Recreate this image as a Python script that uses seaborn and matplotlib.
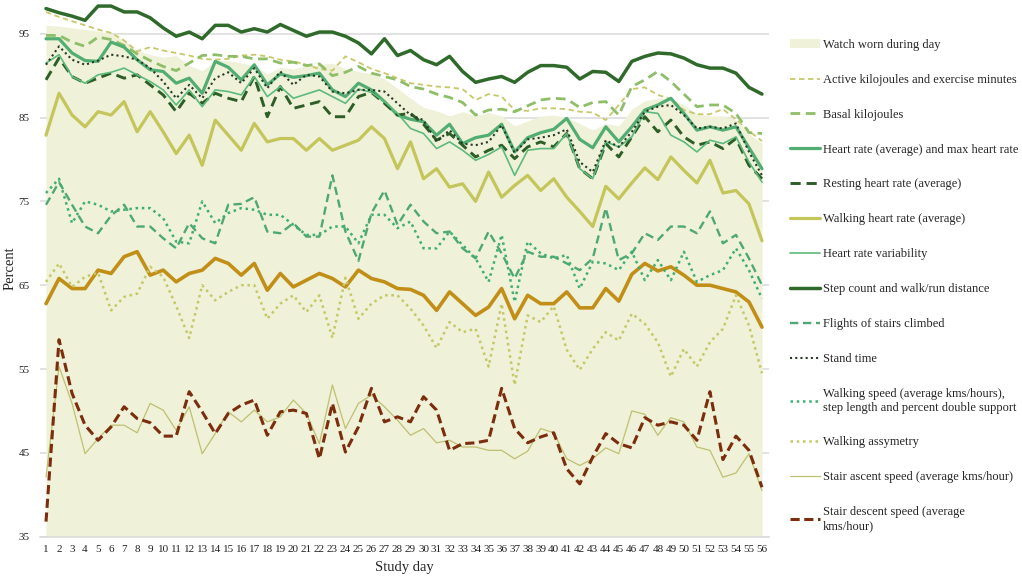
import numpy as np
import pandas as pd
import matplotlib.pyplot as plt
import seaborn as sns
from matplotlib.patches import Patch

# ── data (percent of participants, per study day) ──────────────
days = list(range(1, 57))

worn = [96.0, 95.9, 95.7, 95.5, 95.3, 95.0, 94.2, 93.0, 92.5, 92.2, 92.4, 91.2, 90.6, 91.8,
        91.8, 91.5, 91.2, 90.2, 91.0, 90.8, 91.2, 91.3, 91.5, 90.8, 90.5, 90.2, 89.6, 88.5,
        87.3, 86.2, 85.8, 85.2, 85.7, 85.2, 85.6, 85.2, 84.0, 84.6, 85.2, 85.3, 85.0, 84.3,
        83.5, 84.3, 84.0, 86.0, 87.0, 87.3, 87.3, 86.5, 85.5, 85.2, 85.2, 84.8, 83.0, 82.0]

active_kj = [97.6, 97.0, 96.5, 96.0, 95.5, 95.1, 94.2, 92.9, 93.4, 93.0, 92.7, 92.4, 92.0, 91.9,
             92.0, 92.4, 92.5, 92.3, 91.9, 91.7, 91.3, 90.8, 90.6, 92.3, 91.6, 90.8, 90.3, 89.7,
             89.1, 88.9, 88.7, 88.6, 88.4, 87.1, 87.8, 87.5, 85.9, 85.8, 86.1, 86.1, 86.0, 85.7,
             85.6, 84.7, 86.5, 88.4, 88.6, 87.7, 87.2, 85.9, 85.4, 85.4, 86.0, 84.8, 83.4, 82.2]

basal_kj = [94.8, 94.8, 94.0, 93.5, 94.6, 94.3, 93.6, 92.6, 91.8, 91.1, 90.6, 91.5, 92.4, 92.5,
            92.3, 92.3, 92.0, 92.0, 91.5, 91.6, 91.2, 91.4, 90.0, 90.4, 91.1, 90.3, 89.9, 89.5,
            88.7, 88.4, 87.8, 87.4, 86.8, 85.3, 85.9, 86.0, 85.7, 86.4, 87.1, 87.3, 87.2, 86.2,
            86.8, 86.9, 85.3, 88.7, 89.5, 90.5, 89.3, 87.8, 86.3, 86.5, 86.5, 85.5, 83.2, 83.1]

heart_rate = [94.4, 94.4, 92.7, 91.8, 91.7, 94.0, 93.4, 91.9, 90.7, 90.5, 89.1, 89.7, 87.9, 91.7,
              91.0, 89.5, 91.3, 88.9, 90.2, 89.8, 90.0, 90.3, 88.3, 87.5, 89.1, 88.3, 86.9, 85.3,
              84.8, 84.5, 82.9, 84.2, 81.9, 82.6, 82.9, 84.2, 80.9, 82.6, 83.2, 83.6, 84.9, 82.4,
              81.4, 83.9, 82.1, 83.9, 85.9, 86.5, 87.3, 85.5, 83.5, 83.9, 83.5, 83.9, 81.4, 78.9]

resting_hr = [89.5, 92.1, 89.9, 89.1, 89.7, 90.3, 89.7, 90.1, 88.9, 87.7, 85.7, 87.9, 86.7, 87.9,
              87.3, 86.9, 89.9, 85.1, 88.7, 86.1, 86.5, 86.9, 85.1, 85.1, 87.5, 88.0, 86.7, 85.3,
              85.5, 84.2, 82.3, 83.1, 81.7, 80.3, 81.1, 81.7, 80.1, 81.5, 82.1, 81.5, 83.1, 78.9,
              77.7, 81.9, 80.3, 82.7, 85.1, 83.3, 84.7, 82.7, 81.7, 82.1, 81.3, 82.5, 79.3, 77.7]

walking_hr = [82.9, 87.9, 85.3, 83.9, 85.7, 85.3, 86.9, 83.3, 85.7, 83.3, 80.7, 82.9, 79.3, 84.7,
              82.9, 81.1, 84.3, 82.1, 82.5, 82.5, 81.1, 82.5, 81.1, 81.7, 82.3, 83.9, 82.5, 78.9,
              82.1, 77.7, 78.9, 76.7, 77.1, 75.0, 78.5, 75.5, 76.9, 78.1, 76.3, 77.7, 75.5, 73.8,
              72.0, 76.8, 75.3, 77.2, 79.0, 77.6, 80.3, 78.7, 77.2, 79.9, 76.0, 76.3, 74.7, 70.3]

hrv = [91.5, 92.5, 89.9, 89.1, 90.1, 90.4, 90.9, 90.1, 89.3, 88.3, 86.5, 88.3, 86.3, 88.3,
       88.1, 87.7, 89.9, 87.5, 88.7, 87.3, 87.8, 88.3, 87.5, 86.7, 88.4, 88.0, 86.9, 85.5,
       83.7, 83.1, 81.3, 82.1, 81.1, 79.9, 80.6, 81.5, 78.1, 81.1, 81.3, 81.3, 83.1, 78.9,
       77.7, 82.1, 81.5, 82.7, 85.7, 85.5, 82.9, 82.1, 80.9, 82.3, 81.9, 82.7, 79.7, 77.3]

step_count = [98.0, 97.5, 97.1, 96.6, 98.3, 98.3, 97.6, 97.6, 96.9, 95.7, 94.7, 95.2, 94.4, 96.0,
              96.0, 95.2, 95.6, 95.2, 96.1, 95.4, 94.7, 95.2, 95.2, 94.7, 93.9, 92.6, 94.4, 92.4,
              93.0, 91.9, 91.3, 92.3, 90.5, 89.2, 89.6, 89.9, 89.2, 90.4, 91.2, 91.2, 91.0, 89.6,
              90.5, 90.4, 89.3, 91.7, 92.3, 92.7, 92.6, 92.1, 91.3, 90.9, 90.9, 90.3, 88.6, 87.8]

flights = [74.6, 77.3, 74.6, 72.0, 71.2, 73.3, 74.6, 72.0, 72.0, 70.6, 69.4, 72.4, 70.6, 70.0,
           74.6, 74.7, 75.5, 71.4, 71.2, 72.4, 70.8, 70.8, 78.1, 71.4, 67.9, 73.6, 76.3, 72.2,
           74.6, 72.6, 71.2, 71.4, 69.4, 68.2, 71.4, 68.8, 65.8, 69.0, 68.4, 68.4, 67.6, 66.8,
           68.2, 74.2, 68.0, 68.8, 71.2, 70.4, 72.0, 72.0, 71.2, 73.8, 70.0, 71.0, 68.2, 65.0]

stand_time = [91.3, 93.5, 91.9, 91.3, 91.8, 92.5, 92.3, 91.9, 90.9, 89.3, 87.3, 88.9, 87.3, 89.7,
              90.4, 89.1, 90.9, 88.5, 90.5, 88.9, 90.1, 89.9, 88.1, 87.9, 88.3, 88.3, 88.1, 86.7,
              85.3, 84.7, 82.1, 83.5, 81.9, 81.7, 82.1, 84.1, 80.8, 82.4, 82.6, 82.9, 83.6, 79.7,
              78.5, 82.3, 81.5, 83.3, 85.7, 86.3, 86.5, 85.3, 83.7, 83.9, 83.7, 84.3, 80.9, 78.1]

walking_speed = [76.0, 77.7, 72.4, 75.0, 74.6, 73.8, 74.0, 74.2, 74.2, 73.0, 70.2, 70.0, 75.0, 72.4,
                 73.6, 74.2, 74.0, 73.4, 73.4, 72.2, 71.0, 71.0, 72.0, 72.0, 70.0, 73.4, 73.4, 71.8,
                 72.6, 69.4, 69.4, 71.4, 69.8, 68.2, 65.4, 71.0, 63.0, 70.2, 68.8, 68.2, 68.6, 64.6,
                 67.8, 67.6, 66.8, 69.0, 65.6, 68.0, 65.6, 69.0, 65.4, 66.2, 66.8, 69.4, 66.8, 63.4]

walking_asym = [65.4, 67.6, 64.8, 66.0, 66.5, 62.0, 63.6, 64.0, 67.2, 66.0, 62.5, 58.7, 65.0, 63.2,
                64.2, 65.0, 65.0, 61.0, 62.8, 63.8, 61.8, 63.8, 58.7, 65.9, 61.0, 62.8, 63.8, 63.8,
                62.2, 60.2, 57.5, 60.6, 59.4, 59.8, 55.3, 62.8, 53.1, 61.4, 60.6, 62.5, 57.3, 54.9,
                57.4, 59.4, 58.4, 61.6, 60.4, 58.2, 54.1, 57.4, 55.3, 58.2, 59.8, 63.8, 60.2, 54.5]

stair_ascent = [42.1, 55.3, 50.9, 44.9, 46.7, 48.3, 48.3, 47.4, 50.9, 50.1, 47.7, 50.5, 44.9, 47.3,
                49.9, 48.7, 50.1, 48.7, 49.3, 51.3, 49.7, 46.1, 53.1, 47.9, 50.9, 51.9, 50.5, 48.9,
                47.1, 47.9, 46.2, 46.5, 45.7, 45.7, 45.3, 45.3, 44.3, 45.2, 47.9, 47.4, 44.3, 43.5,
                44.3, 45.6, 44.9, 50.0, 49.6, 47.1, 49.2, 48.7, 45.7, 45.3, 42.1, 42.6, 44.9, 40.5]

stair_descent = [36.8, 58.5, 52.1, 48.3, 46.5, 48.1, 50.5, 49.1, 48.6, 47.0, 47.0, 52.3, 49.9, 47.3,
                 49.7, 50.7, 51.3, 47.1, 49.9, 50.1, 49.7, 44.3, 50.9, 45.1, 48.1, 52.7, 48.7, 49.3,
                 48.7, 51.7, 50.1, 45.3, 46.1, 46.2, 46.5, 52.7, 47.9, 46.2, 46.9, 47.4, 43.1, 41.3,
                 44.5, 47.3, 46.1, 45.6, 49.2, 48.3, 48.7, 48.3, 46.5, 52.3, 44.2, 47.0, 45.3, 40.9]

# gold line has no entry in the original legend
gold_series = [62.8, 65.8, 64.6, 64.6, 66.8, 66.4, 68.4, 69.0, 66.2, 66.8, 65.4, 66.4, 66.8, 68.2,
               67.6, 66.2, 67.6, 64.4, 66.4, 64.8, 65.6, 66.4, 65.8, 64.8, 66.8, 65.8, 65.4, 64.6,
               64.5, 63.8, 62.0, 64.2, 62.8, 61.4, 62.4, 64.6, 61.0, 63.8, 62.8, 62.8, 64.2, 62.3,
               62.3, 64.6, 63.1, 66.3, 67.6, 66.7, 67.2, 66.2, 65.0, 65.0, 64.6, 64.2, 63.0, 60.0]

AREA = "#EFF1D8"

# (values, legend label, colour, linewidth, linestyle)
series = [
    (active_kj, "Active kilojoules and exercise minutes", "#C8C86A", 1.3, (0, (3, 2))),
    (basal_kj, "Basal kilojoules", "#8EBF68", 2.0, (0, (3.5, 2))),
    (heart_rate, "Heart rate (average) and max heart rate", "#52AD72", 2.3, "-"),
    (resting_hr, "Resting heart rate (average)", "#2D5E28", 2.1, (0, (3.5, 2))),
    (walking_hr, "Walking heart rate (average)", "#C4C55A", 2.3, "-"),
    (hrv, "Heart rate variability", "#5DBA7D", 1.2, "-"),
    (step_count, "Step count and walk/run distance", "#2F6A2B", 2.5, "-"),
    (flights, "Flights of stairs climbed", "#4FA874", 1.7, (0, (3.5, 2))),
    (stand_time, "Stand time", "#263B26", 1.5, (0, (1, 1.5))),
    (walking_speed, "Walking speed (average kms/hours),\nstep length and percent double support",
     "#3FAE72", 1.8, (0, (1, 1.5))),
    (walking_asym, "Walking assymetry", "#C4C866", 1.8, (0, (1, 1.5))),
    (stair_ascent, "Stair ascent speed (average kms/hour)", "#BFC070", 0.9, "-"),
    (stair_descent, "Stair descent speed (average\nkms/hour)", "#7B2D0E", 2.2, (0, (3, 1.5))),
]

sns.set_theme(style="white")
plt.rcParams['font.family'] = ['Liberation Serif', 'DejaVu Serif']

fig = plt.figure(figsize=(10.22, 5.79), dpi=100)
ax = fig.add_axes([39.5 / 1022, 42.3 / 579, 729 / 1022, 536.5 / 579])

ax.fill_between(days, 35, worn, color=AREA, lw=0, zorder=1)

sns.lineplot(x=days, y=gold_series, ax=ax, color="#C18F17", lw=2.6, errorbar=None)

handles = [Patch(facecolor=AREA, edgecolor="none")]
labels = ["Watch worn during day"]
for vals, lab, col, lw, ls in series:
    sns.lineplot(x=days, y=vals, ax=ax, color=col, lw=lw, linestyle=ls, errorbar=None)
    handles.append(ax.get_lines()[-1])
    labels.append(lab)

ax.set_xlim(0.5, 56.5)
ax.set_ylim(35, 99)
ax.set_xticks(days)
ax.set_yticks(range(35, 96, 10))
ax.yaxis.grid(True, color="#DADADA", lw=1.1)
ax.set_axisbelow(True)
ax.tick_params(axis="both", length=0, labelsize=8, colors="#222222")
ax.tick_params(axis="y", pad=7)
ax.tick_params(axis="x", pad=6)
for s in ["top", "right", "left"]:
    ax.spines[s].set_visible(False)
ax.spines["bottom"].set_color("#D9D9D9")
ax.spines["bottom"].set_linewidth(1.1)

ax.set_xlabel("Study day", fontsize=10.5, labelpad=5)
ax.set_ylabel("Percent", fontsize=10.5)
ax.yaxis.set_label_coords(-23 / 729, 0.5)

fig.legend(handles, labels, loc="upper left", bbox_to_anchor=(790 / 1022, 1 - 39 / 579),
           frameon=False, fontsize=9, handlelength=2.4, handletextpad=0.25,
           labelspacing=1.83, borderpad=0, borderaxespad=0)

fig.savefig("out.png", dpi=100)
